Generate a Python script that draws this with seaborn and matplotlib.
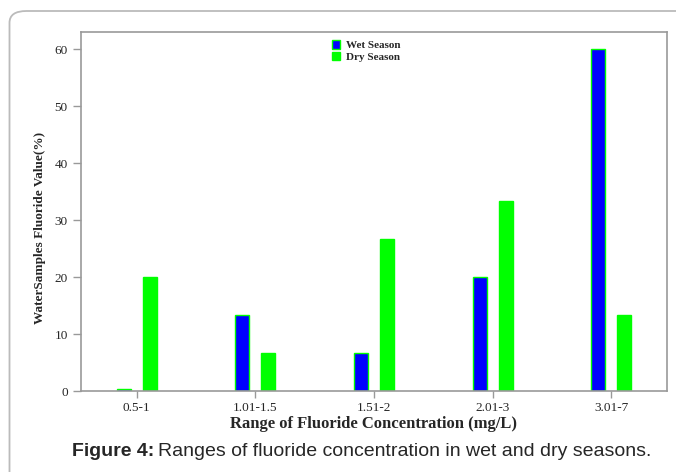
import pandas as pd
import matplotlib.pyplot as plt
import seaborn as sns
from matplotlib.patches import FancyBboxPatch, Patch

# data
ranges = ["0.5-1", "1.01-1.5", "1.51-2", "2.01-3", "3.01-7"]
wet_season = [0.3, 13.3, 6.7, 20, 60]
dry_season = [20, 6.7, 26.7, 33.3, 13.3]

df = pd.DataFrame({
    "range": ranges * 2,
    "value": wet_season + dry_season,
    "season": ["Wet Season"] * len(ranges) + ["Dry Season"] * len(ranges),
})

sns.set_style("white")
plt.rcParams["font.family"] = ["Liberation Serif", "DejaVu Serif"]

fig = plt.figure(figsize=(6.76, 4.72), dpi=100)
ax = fig.add_axes([81 / 676, 81 / 472, 586 / 676, 359 / 472])

palette = {"Wet Season": "#0000ff", "Dry Season": "#00ff00"}
sns.barplot(data=df, x="range", y="value", hue="season", palette=palette,
            width=0.44, gap=0.46, saturation=1, ax=ax, legend=False,
            edgecolor="#00ff00", linewidth=1.0)

ax.set_xlim(-0.47, 4.47)
ax.set_ylim(0, 63)
ax.set_yticks([0, 10, 20, 30, 40, 50, 60])

for s in ax.spines.values():
    s.set_color("#999999")
    s.set_linewidth(1.2)

ax.tick_params(axis="both", direction="out", length=6, width=1,
               color="#999999", labelsize=9.5, bottom=True, left=True)
ax.tick_params(axis="x", length=5, pad=3)

ax.set_xlabel("Range of Fluoride Concentration (mg/L)", fontsize=12,
              fontweight="bold", labelpad=1)
ax.set_ylabel("WaterSamples Fluoride Value(%)", fontsize=9.5,
              fontweight="bold")
ax.yaxis.set_label_coords(-0.060, 0.455)

handles = [Patch(facecolor="#0000ff", edgecolor="#00ff00", linewidth=1),
           Patch(facecolor="#00ff00", edgecolor="#00ff00", linewidth=1)]
ax.legend(handles, ["Wet Season", "Dry Season"], loc="upper center",
          bbox_to_anchor=(0.487, 1.005), frameon=False,
          prop={"weight": "bold", "size": 8}, handlelength=0.7,
          handleheight=0.8, handletextpad=0.5, labelspacing=0.15)

# outer rounded frame, runs past the right and bottom edge
box = FancyBboxPatch((9.5 / 676, -0.2), 1.2, 1.2 - 11 / 472,
                     boxstyle="round,pad=0,rounding_size=0.025",
                     transform=fig.transFigure, fill=False,
                     edgecolor="#bbbbbb", linewidth=1.3, clip_on=False)
fig.patches.append(box)

# caption: bold "Figure 4:" followed by regular text
cap_y = 1 - 452 / 472
t1 = fig.text(72 / 676, cap_y, "Figure 4:", fontsize=14, fontweight="bold",
              family="Liberation Sans", va="center", ha="left")
fig.canvas.draw()
bb = t1.get_window_extent()
x2 = (bb.x1 + 4) / fig.bbox.width
fig.text(x2, cap_y, "Ranges of fluoride concentration in wet and dry seasons.",
         fontsize=14, family="Liberation Sans", va="center", ha="left")

plt.savefig("out.png", dpi=100)
